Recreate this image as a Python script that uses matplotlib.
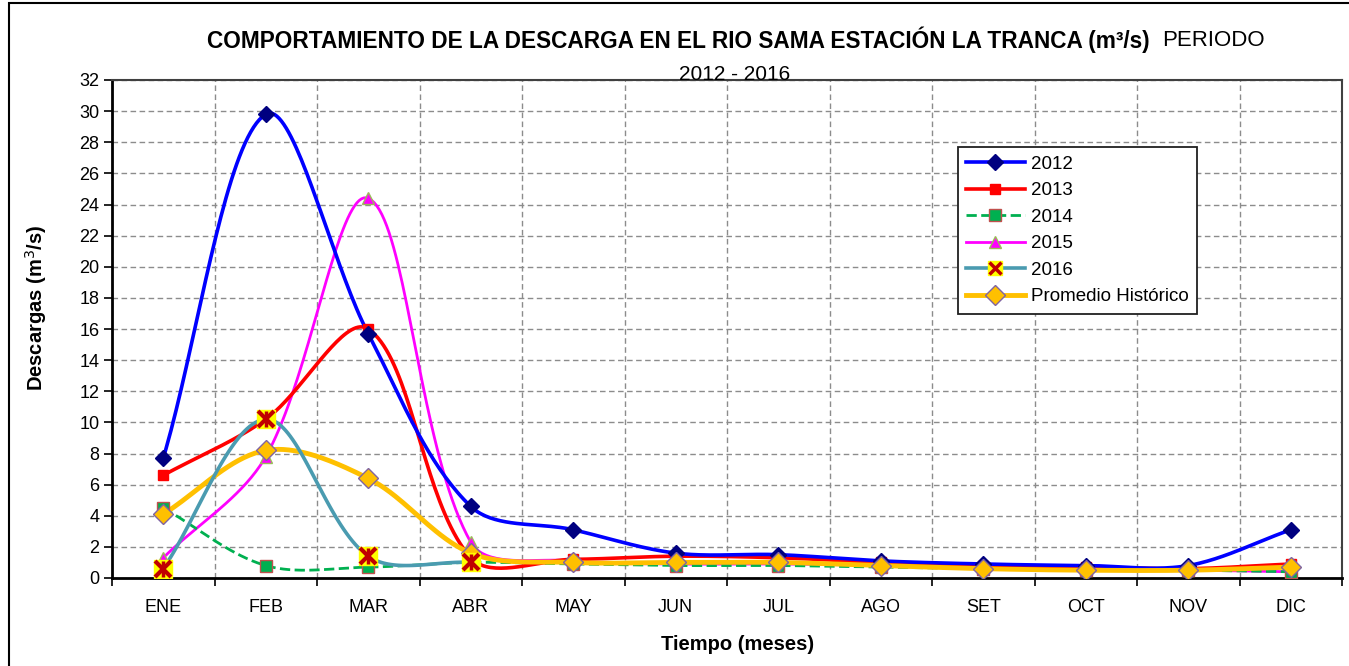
import matplotlib
matplotlib.use("Agg")
import matplotlib.pyplot as plt
import numpy as np
from matplotlib.lines import Line2D
from matplotlib.legend_handler import HandlerTuple
from matplotlib.patches import Rectangle

plt.rcParams['font.family'] = ['Liberation Sans', 'DejaVu Sans']

# data (m3/s)
months = ['ENE', 'FEB', 'MAR', 'ABR', 'MAY', 'JUN', 'JUL', 'AGO', 'SET', 'OCT', 'NOV', 'DIC']
q_2012 = [7.7, 29.8, 15.7, 4.6, 3.1, 1.6, 1.5, 1.1, 0.9, 0.8, 0.8, 3.1]
q_2013 = [6.6, 10.2, 16.0, 1.3, 1.2, 1.4, 1.3, 1.0, 0.8, 0.7, 0.6, 0.9]
q_2014 = [4.5, 0.8, 0.7, 1.0, 0.9, 0.8, 0.8, 0.7, 0.6, 0.5, 0.5, 0.4]
q_2015 = [1.3, 7.8, 24.4, 2.3, 1.1, 0.9, 0.9, 0.8, 0.6, 0.5, 0.5, 0.4]
q_2016 = [0.6, 10.2, 1.4, 1.0]
q_prom = [4.1, 8.2, 6.4, 1.6, 1.0, 1.0, 1.0, 0.8, 0.6, 0.5, 0.5, 0.7]

# pixels per unit on screen, used so the smoothing behaves like the spreadsheet's
PX_X, PX_Y = 102.5, 15.56


def smooth(y):
    """Smoothed line through every point, bezier with length weighted tangents."""
    x = np.arange(len(y), dtype=float)
    y = np.asarray(y, dtype=float)
    p = np.column_stack([x * PX_X, y * PX_Y])
    n = len(p)
    seg_len = np.hypot(*np.diff(p, axis=0).T)
    t = np.linspace(0, 1, 40)[:, None]
    out = []
    for i in range(n - 1):
        p0, p1 = p[i], p[i + 1]
        L = seg_len[i]
        # tangent at p0
        if i == 0:
            c1 = p0 + (p1 - p0) / 3.0
        else:
            tan = p[i + 1] - p[i - 1]
            c1 = p0 + tan * L / (seg_len[i - 1] + L) / 3.0
        if i == n - 2:
            c2 = p1 - (p1 - p0) / 3.0
        else:
            tan = p[i + 2] - p[i]
            c2 = p1 - tan * L / (seg_len[i + 1] + L) / 3.0
        seg = ((1 - t) ** 3) * p0 + 3 * ((1 - t) ** 2) * t * c1 + 3 * (1 - t) * t ** 2 * c2 + t ** 3 * p1
        out.append(seg if i == 0 else seg[1:])
    out = np.vstack(out)
    return out[:, 0] / PX_X, out[:, 1] / PX_Y


W, H = 1349, 666
fig = plt.figure(figsize=(W / 100, H / 100), dpi=100)
ax = fig.add_axes([112 / W, 1 - 578 / H, (1342 - 112) / W, (578 - 80) / H])

# outer chart frame
fig.patches.append(Rectangle((9 / W, -0.01), 1.2, 1 - 3 / H + 0.01, transform=fig.transFigure,
                             fill=False, edgecolor='black', linewidth=1.5))

# series: (values, line color, lw, linestyle, marker, marker face, marker edge, ms, label)
series = [
    (q_2015, '#ff00ff', 2.0, '-', '^', '#ff00ff', '#9bbb59', 9, '2015'),
    (q_2014, '#00b050', 2.0, '--', 's', '#00b050', '#c0504d', 8, '2014'),
    (q_2013, '#ff0000', 2.6, '-', 's', '#ff0000', '#ff0000', 7, '2013'),
    (q_2012, '#0000ff', 2.6, '-', 'D', '#000080', '#000080', 8, '2012'),
    (q_prom, '#ffc000', 3.5, '-', 'D', '#ffc000', '#8064a2', 10, 'Promedio Histórico'),
]
handles = {}
for vals, col, lw, ls, mk, mf, me, ms, lab in series:
    sx, sy = smooth(vals)
    ax.plot(sx, sy, color=col, lw=lw, ls=ls, zorder=3)
    ax.plot(range(len(vals)), vals, ls='none', marker=mk, ms=ms, mfc=mf, mec=me, mew=1.0, zorder=4)
    handles[lab] = Line2D([], [], color=col, lw=lw, ls=ls, marker=mk, ms=ms, mfc=mf, mec=me, mew=1.0)

# 2016: teal line, yellow square behind a dark red X
sx, sy = smooth(q_2016)
ax.plot(sx, sy, color='#4a9bb0', lw=2.6, zorder=3)
ax.plot(range(len(q_2016)), q_2016, ls='none', marker='s', ms=13, mfc='#ffff00', mec='#ffff00', zorder=5)
ax.plot(range(len(q_2016)), q_2016, ls='none', marker='x', ms=11, mec='#c00000', mew=3, zorder=6)
ax.plot(range(len(q_2016)), q_2016, ls='none', marker='|', ms=12, mec='#c00000', mew=2.5, zorder=6)
h16 = (Line2D([], [], color='#4a9bb0', lw=2.6),
       Line2D([], [], ls='none', marker='s', ms=10, mfc='#ffff00', mec='#ffff00'),
       Line2D([], [], ls='none', marker='x', ms=8, mec='#c00000', mew=2.5))

# axes formatting
ax.set_xlim(-0.5, 11.5)
ax.set_ylim(0, 32)
ax.set_yticks(np.arange(0, 33, 2))
ax.set_xticks(np.arange(-0.5, 12, 1))
ax.set_xticklabels([])
ax.set_xticks(np.arange(12), minor=True)
ax.set_xticklabels(months, minor=True)
ax.tick_params(axis='x', which='minor', length=0, pad=15, labelsize=13)
ax.tick_params(axis='x', which='major', length=6, width=1.2, direction='out')
ax.tick_params(axis='y', length=6, width=1.2, labelsize=13, pad=3)
ax.grid(True, which='major', color='#8c8c8c', linestyle=(0, (4, 2.5)), linewidth=1.0)
ax.set_axisbelow(True)
for s in ['left', 'bottom']:
    ax.spines[s].set_linewidth(2.0)
    ax.spines[s].set_color('black')
for s in ['top', 'right']:
    ax.spines[s].set_linewidth(1.5)
    ax.spines[s].set_color('#404040')

# axis titles
fig.text(738 / W, 1 - 645 / H, 'Tiempo (meses)', ha='center', va='center', fontsize=14.5, fontweight='bold')
fig.text(36 / W, 1 - 308 / H, 'Descargas (m$^3$/s)', ha='center', va='center', rotation=90,
         fontsize=14.5, fontweight='bold')

# title
fig.text(1150 / W, 1 - 40 / H, 'COMPORTAMIENTO DE LA DESCARGA EN EL RIO SAMA ESTACIÓN LA TRANCA (m³/s)',
         ha='right', va='center', fontsize=16.3, fontweight='bold')
fig.text(1162 / W, 1 - 40 / H, 'PERIODO', ha='left', va='center', fontsize=16)
fig.text(735 / W, 1 - 75 / H, '2012 - 2016', ha='center', va='center', fontsize=15)

# legend
leg_labels = ['2012', '2013', '2014', '2015', '2016', 'Promedio Histórico']
leg_handles = [handles['2012'], handles['2013'], handles['2014'], handles['2015'], h16,
               handles['Promedio Histórico']]
leg = ax.legend(leg_handles, leg_labels, handler_map={tuple: HandlerTuple(ndivide=1, pad=0)},
                loc='upper left', bbox_to_anchor=((958 - 112) / 1230, (578 - 147) / 498),
                borderaxespad=0, fontsize=13.5, frameon=True, fancybox=False, framealpha=1,
                edgecolor='#202020', handlelength=3.1, labelspacing=0.5, borderpad=0.45,
                handletextpad=0.35)
leg.get_frame().set_linewidth(1.3)

fig.savefig('out.png', dpi=100)
